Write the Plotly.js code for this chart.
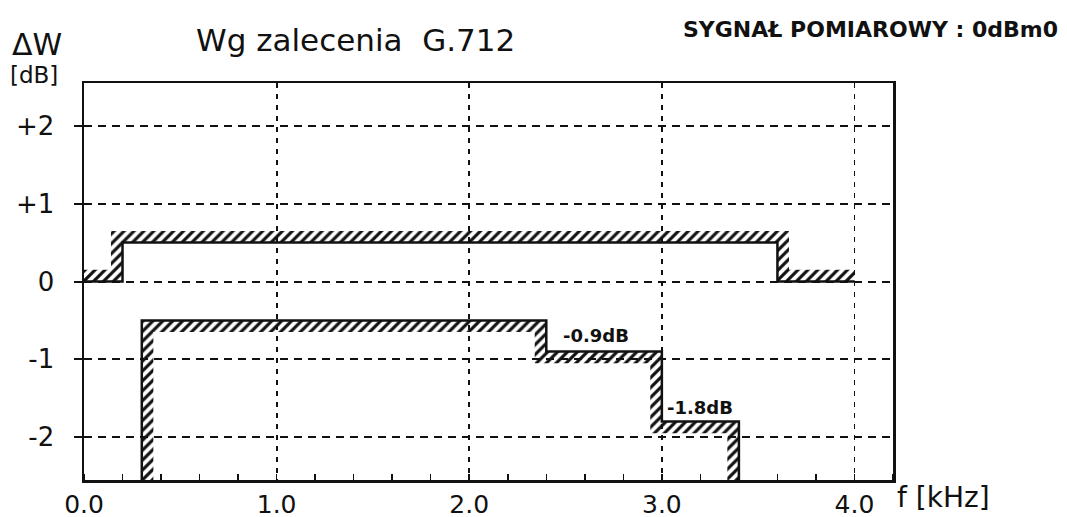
<!DOCTYPE html>
<html>
<head>
<meta charset="utf-8">
<script src="https://cdn.plot.ly/plotly-3.0.1.min.js"></script>
<style>html,body{margin:0;padding:0;background:#fff;}#chart{width:1067px;height:517px;}</style>
</head>
<body>
<div id="chart"></div>
<script>
// Frequency axis (kHz) tick values and labels
const xTickVals = [0, 1, 2, 3, 4];
const xTickText = ["0.0", "1.0", "2.0", "3.0", "4.0"];
// Level axis (dB) tick values and labels
const yTickVals = [2, 1, 0, -1, -2];
const yTickText = ["+2", "+1", "0", "-1", "-2"];

// Upper limit mask (G.712): breakpoints (kHz) and segment levels (dB)
const upperBreaks = [0.0, 0.2, 3.6, 4.0];
const upperLevels = [0.0, 0.5, 0.0];
// Lower limit mask: breakpoints (kHz) and segment levels (dB)
const lowerBreaks = [0.3, 2.4, 3.0, 3.4];
const lowerLevels = [-0.5, -0.9, -1.8];
// Annotated lower-mask levels
const stepLabels = ["-0.9dB", "-1.8dB"];

const X_RANGE = [0, 4.2];
const Y_RANGE = [-2.55, 2.55];

// Build step path; ext holds level before first break, segment levels, level after last break
function stepPath(breaks, ext) {
  const xs = [], ys = [];
  for (let i = 0; i < breaks.length; i++) {
    xs.push(breaks[i], breaks[i]);
    ys.push(ext[i], ext[i + 1]);
  }
  return {xs, ys};
}
// Offset path on the hatched side (side=+1 above, -1 below)
function offsetPath(breaks, ext, side, dx, dy) {
  const xs = [], ys = [];
  for (let i = 0; i < breaks.length; i++) {
    const a = ext[i], b = ext[i + 1];
    const xo = breaks[i] + side * Math.sign(a - b) * dx;
    xs.push(xo, xo);
    ys.push(a + side * dy, b + side * dy);
  }
  return {xs, ys};
}

const DX = 0.06, DY = 0.15;
const upperExt = [upperLevels[0]].concat(upperLevels, [upperLevels[upperLevels.length - 1]]);
const lowerExt = [Y_RANGE[0]].concat(lowerLevels, [Y_RANGE[0]]);

const upPath = stepPath(upperBreaks, upperExt);
const upOff = offsetPath(upperBreaks, upperExt, 1, DX, DY);
const loPath = stepPath(lowerBreaks, lowerExt);
const loOff = offsetPath(lowerBreaks, lowerExt, -1, DX, DY);

function hatch(path, off) {
  return {
    x: path.xs.concat(off.xs.slice().reverse()),
    y: path.ys.concat(off.ys.slice().reverse()),
    mode: "lines", fill: "toself", line: {width: 0},
    fillcolor: "rgba(0,0,0,0)",
    fillpattern: {shape: "/", size: 7, solidity: 0.45, fgcolor: "#111", bgcolor: "rgba(0,0,0,0)"},
    hoverinfo: "skip", showlegend: false
  };
}

const traces = [
  hatch(upPath, upOff),
  hatch(loPath, loOff),
  {x: upPath.xs, y: upPath.ys, mode: "lines", line: {color: "#111", width: 2.5}, showlegend: false},
  {x: loPath.xs, y: loPath.ys, mode: "lines", line: {color: "#111", width: 2.5}, showlegend: false}
];

const fontFam = "DejaVu Sans, Liberation Sans, sans-serif";
const annotations = [
  {text: "ΔW", xref: "paper", yref: "paper", x: -0.092, y: 1.096, xanchor: "left", yanchor: "middle", showarrow: false, font: {size: 30, family: fontFam, color: "#111"}},
  {text: "[dB]", xref: "paper", yref: "paper", x: -0.094, y: 1.02, xanchor: "left", yanchor: "middle", showarrow: false, font: {size: 23, family: fontFam, color: "#111"}},
  {text: "Wg zalecenia  G.712", xref: "paper", yref: "paper", x: 0.335, y: 1.108, xanchor: "center", yanchor: "middle", showarrow: false, font: {size: 31, family: fontFam, color: "#111"}},
  {text: "<b>SYGNAŁ POMIAROWY : 0dBm0</b>", xref: "paper", yref: "paper", x: 1.206, y: 1.134, xanchor: "right", yanchor: "middle", showarrow: false, font: {size: 22, family: fontFam, color: "#111"}},
  {text: "f [kHz]", xref: "paper", yref: "paper", x: 1.003, y: -0.043, xanchor: "left", yanchor: "middle", showarrow: false, font: {size: 28, family: fontFam, color: "#111"}},
  {text: "<b>" + stepLabels[0] + "</b>", x: (lowerBreaks[1] + lowerBreaks[2]) / 2, y: lowerLevels[1], xshift: -8, yshift: 16, xanchor: "center", yanchor: "middle", showarrow: false, font: {size: 18, family: fontFam, color: "#111"}},
  {text: "<b>" + stepLabels[1] + "</b>", x: (lowerBreaks[2] + lowerBreaks[3]) / 2, y: lowerLevels[2], yshift: 14, xanchor: "center", yanchor: "middle", showarrow: false, font: {size: 18, family: fontFam, color: "#111"}}
];

const layout = {
  width: 1067, height: 517,
  margin: {l: 84, r: 174, t: 83, b: 37},
  paper_bgcolor: "#fff", plot_bgcolor: "#fff",
  showlegend: false,
  font: {family: fontFam, color: "#111"},
  xaxis: {
    range: X_RANGE, tickvals: xTickVals, ticktext: xTickText,
    showline: true, mirror: true, linecolor: "#111", linewidth: 2.5,
    showgrid: true, gridcolor: "#111", gridwidth: 1.8, griddash: "5px,6px",
    ticks: "", zeroline: false,
    tickfont: {size: 25, family: fontFam, color: "#111"},
    minor: {dtick: 0.2, ticks: "inside", ticklen: 6, tickwidth: 1.5, tickcolor: "#111", showgrid: false}
  },
  yaxis: {
    range: Y_RANGE, tickvals: yTickVals, ticktext: yTickText,
    showline: true, mirror: true, linecolor: "#111", linewidth: 2.5,
    showgrid: true, gridcolor: "#111", gridwidth: 2, griddash: "8px,6px",
    ticks: "outside", ticklen: 8, tickwidth: 2, tickcolor: "#111", zeroline: false,
    ticklabelstandoff: 14,
    tickfont: {size: 26, family: fontFam, color: "#111"}
  },
  annotations: annotations
};

Plotly.newPlot("chart", traces, layout, {staticPlot: true, displayModeBar: false});
</script>
</body>
</html>
